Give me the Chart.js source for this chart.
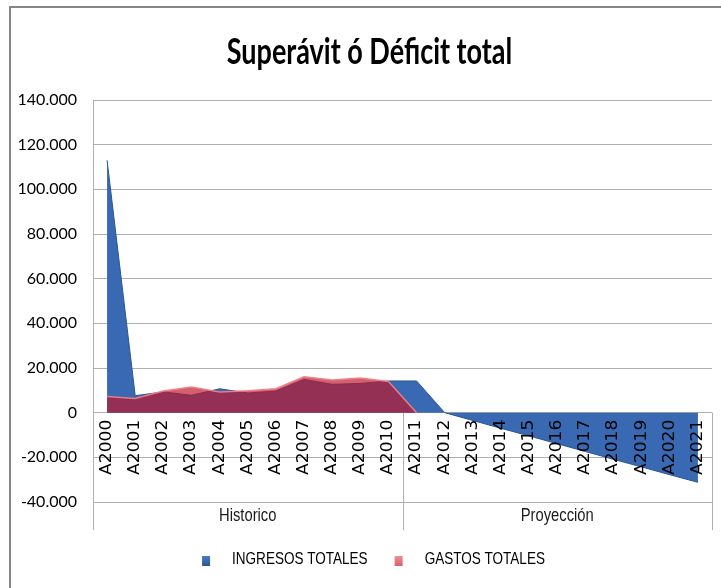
<!DOCTYPE html>
<html><head><meta charset="utf-8">
<script src="https://cdn.jsdelivr.net/npm/chart.js@4.4.1/dist/chart.umd.min.js"></script>
<style>html,body{margin:0;padding:0;background:#fff;}canvas{display:block;}</style>
</head><body>
<canvas id="c" width="721" height="588"></canvas>
<script>
const titleText = 'Superávit ó Déficit total';
const categories = ['A2000','A2001','A2002','A2003','A2004','A2005','A2006','A2007','A2008','A2009','A2010',
                    'A2011','A2012','A2013','A2014','A2015','A2016','A2017','A2018','A2019','A2020','A2021'];
const groupNames = ['Historico','Proyección'];
const groupSizes = [11, 11];
const seriesNames = ['INGRESOS TOTALES','GASTOS TOTALES'];
const ingresos = [113000, 7600, 9300, 7800, 10700, 8800, 9700, 14900, 12700, 13100, 14200,
                  14200, 0, -3500, -7000, -10400, -13900, -17400, -20900, -24300, -27800, -31200];
const gastos   = [7200, 6300, 9700, 11500, 9300, 9800, 10700, 16100, 14600, 15500, 14000,
                  0, null, null, null, null, null, null, null, null, null, null];
const yMin = -40000, yMax = 140000, yStep = 20000;

const SANS = '"Liberation Sans", Arial, sans-serif';
const NARROW_X = 0.82;           // condensed look of the original typeface
const BLUE = '#3869B2', BLUE_EDGE = '#2A5696';
const RED = 'rgba(190,20,40,0.68)', RED_EDGE = 'rgba(240,125,135,0.95)';

function fmt(v){
  const s = Math.abs(v).toString().replace(/\B(?=(\d{3})+(?!\d))/g,'.');
  return (v < 0 ? '-' : '') + s;
}
function narrowText(ctx, text, x, y, align, sx){
  ctx.save();
  ctx.translate(x, y);
  ctx.scale(sx, 1);
  ctx.textAlign = align;
  ctx.fillText(text, 0, 0);
  ctx.restore();
}

const decor = {
  id: 'decor',
  beforeDraw(chart){
    const ctx = chart.ctx, ca = chart.chartArea;
    ctx.save();
    ctx.fillStyle = '#fff';
    ctx.fillRect(0,0,chart.width,chart.height);
    ctx.strokeStyle = '#878787';
    ctx.lineWidth = 2;
    ctx.beginPath();
    ctx.moveTo(10, chart.height); ctx.lineTo(10, 7); ctx.lineTo(chart.width, 7);
    ctx.stroke();
    ctx.fillStyle = '#000';
    ctx.font = 'bold 36px Lato, ' + SANS;
    ctx.textBaseline = 'middle';
    narrowText(ctx, titleText, (ca.left + ca.right)/2 - 33, 52, 'center', 0.75);
    ctx.restore();
  },
  beforeDatasetsDraw(chart){
    const ctx = chart.ctx, xs = chart.scales.x, ys = chart.scales.y, ca = chart.chartArea;
    const y0 = ys.getPixelForValue(0);
    const bottom = ca.bottom + 28;
    ctx.save();
    ctx.strokeStyle = '#AFAFAF'; ctx.lineWidth = 1;
    let idx = 0;
    const edges = [ca.left];
    groupSizes.forEach(n => {
      idx += n;
      const a = xs.getPixelForValue(idx-1);
      edges.push(idx < categories.length ? (a + xs.getPixelForValue(idx))/2 : ca.right);
    });
    edges.forEach(x => { const px = Math.round(x)+0.5; ctx.beginPath(); ctx.moveTo(px, y0); ctx.lineTo(px, bottom); ctx.stroke(); });
    ctx.fillStyle = '#1a1a1a';
    ctx.font = '18px ' + SANS;
    ctx.textBaseline = 'middle';
    groupNames.forEach((g,i) => narrowText(ctx, g, (edges[i]+edges[i+1])/2, ca.bottom + 14, 'center', NARROW_X));
    ctx.restore();
  },
  afterDatasetsDraw(chart){
    const ctx = chart.ctx, xs = chart.scales.x, ys = chart.scales.y, ca = chart.chartArea;
    const y0 = ys.getPixelForValue(0);
    ctx.save();
    ctx.fillStyle = '#000';
    ctx.font = '15px "DejaVu Sans", Verdana, sans-serif';
    ctx.textAlign = 'right'; ctx.textBaseline = 'middle';
    categories.forEach((c,i) => {
      const x = xs.getPixelForValue(i);
      ctx.save();
      ctx.translate(x, y0 + 7);
      ctx.rotate(-Math.PI/2);
      ctx.scale(1.14, 1);
      ctx.fillText(c, 0, 0);
      ctx.restore();
    });
    ctx.restore();
    ctx.save();
    ctx.font = '16.5px ' + SANS;
    ctx.textBaseline = 'middle';
    const markW = 8, markH = 10, gap = 22, between = 27;
    const widths = seriesNames.map(s => ctx.measureText(s).width * NARROW_X);
    const total = widths.reduce((a,w)=>a+markW+gap+w,0) + between*(seriesNames.length-1);
    let x = (ca.left + ca.right)/2 - 29 - total/2;
    const yMid = chart.height - 29;
    const marks = [['#2A5696','#4A7CC0'],['#D8606A','#EE9098']];
    seriesNames.forEach((s,i) => {
      const gr = ctx.createLinearGradient(0, yMid-3, 0, yMid+7);
      gr.addColorStop(0, marks[i][1]); gr.addColorStop(1, marks[i][0]);
      ctx.fillStyle = gr;
      ctx.fillRect(x, yMid - 3, markW, markH);
      ctx.fillStyle = '#000';
      narrowText(ctx, s, x + markW + gap, yMid, 'left', NARROW_X);
      x += markW + gap + widths[i] + between;
    });
    ctx.restore();
  }
};

new Chart(document.getElementById('c'), {
  type: 'line',
  data: {
    labels: categories,
    datasets: [
      { label: seriesNames[0], data: ingresos, fill: 'origin', backgroundColor: BLUE, borderColor: BLUE_EDGE,
        borderWidth: 1, pointRadius: 0, tension: 0, order: 1 },
      { label: seriesNames[1], data: gastos, fill: 'origin', backgroundColor: RED, borderColor: RED_EDGE,
        borderWidth: 1.5, pointRadius: 0, tension: 0, order: 0, spanGaps: false }
    ]
  },
  options: {
    responsive: false,
    animation: false,
    events: [],
    layout: { padding: { left: 10, right: 9, top: 100, bottom: 53 } },
    plugins: {
      legend: { display: false },
      tooltip: { enabled: false },
      title: { display: false, text: titleText }
    },
    scales: {
      x: { type: 'category', offset: true,
           ticks: { display: false }, grid: { display: false }, border: { display: false },
           afterFit: s => { s.height = 33; } },
      y: { min: yMin, max: yMax,
           ticks: { stepSize: yStep, padding: 16, color: '#000', font: { family: 'Lato', size: 16 },
                    callback: v => fmt(v) },
           grid: { color: '#AFAFAF', lineWidth: 1, drawTicks: false },
           border: { color: '#AFAFAF', width: 1 },
           afterFit: s => { s.width = 83; } }
    }
  },
  plugins: [decor]
});
</script>
</body></html>
